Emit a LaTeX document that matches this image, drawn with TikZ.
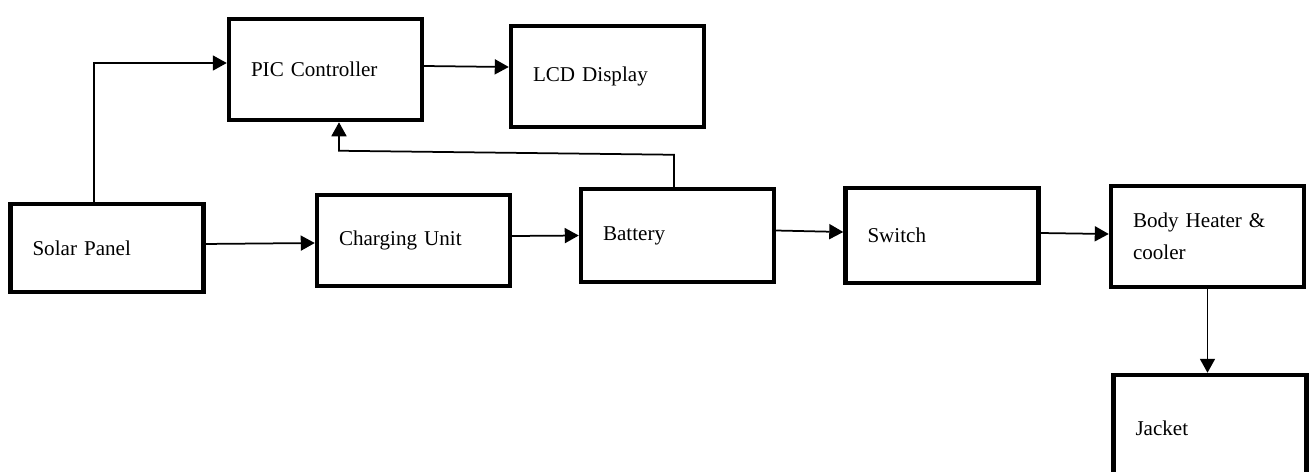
\documentclass[tikz,border=0pt]{standalone}
\usepackage{fontspec}
\setmainfont{Liberation Serif}
\usetikzlibrary{arrows.meta}
\begin{document}
\begin{tikzpicture}[x=0.02cm,y=-0.02cm,
    blockbox/.style={draw,line width=0.09cm,rectangle,minimum height=#1*0.02cm,
      text width=2.98cm,inner xsep=0.44cm,align=left,
      font=\fontsize{12}{18}\selectfont},
    flow/.style={-{Triangle[length=0.28cm,width=0.3cm]},line width=0.035cm}]
  \clip (0,0) rectangle (1309,471);
  % blocks
  \node[blockbox=88]  (solar)   at (107,248)    {Solar Panel};
  \node[blockbox=101] (pic)     at (325.5,69.5) {PIC Controller};
  \node[blockbox=101] (lcd)     at (607.5,76.5) {LCD Display};
  \node[blockbox=91]  (charger) at (413.5,240.5) {Charging Unit};
  \node[blockbox=93]  (battery) at (677.5,235.5) {Battery};
  \node[blockbox=95]  (switch)  at (942,235.5)  {Switch};
  \node[blockbox=101] (heater)  at (1207.5,236.5) {Body Heater \&\\cooler};
  \node[blockbox=106] (jacket)  at (1210,428)   {Jacket};
  % connections
  \draw[flow] ([xshift=-0.26cm]solar.north) |- ([yshift=0.13cm]pic.west);
  \draw[flow] ([yshift=0.07cm]pic.east) -- ([yshift=0.19cm]lcd.west);
  \draw[flow] ([xshift=-0.07cm]battery.north) -- ++(0,-32) -- ++(-335,-4)
    -- ([xshift=0.27cm]pic.south);
  \draw[flow] ([xshift=-0.08cm,yshift=0.08cm]solar.east) -- ([yshift=-0.05cm]charger.west);
  \draw[flow] ([yshift=0.09cm]charger.east) -- (battery.west);
  \draw[flow] ([yshift=0.1cm]battery.east) -- ([yshift=0.07cm]switch.west);
  \draw[flow] ([yshift=0.05cm]switch.east) -- ([yshift=0.05cm]heater.west);
  \draw[flow] (heater.south) -- (heater.south |- jacket.north);
\end{tikzpicture}
\end{document}
